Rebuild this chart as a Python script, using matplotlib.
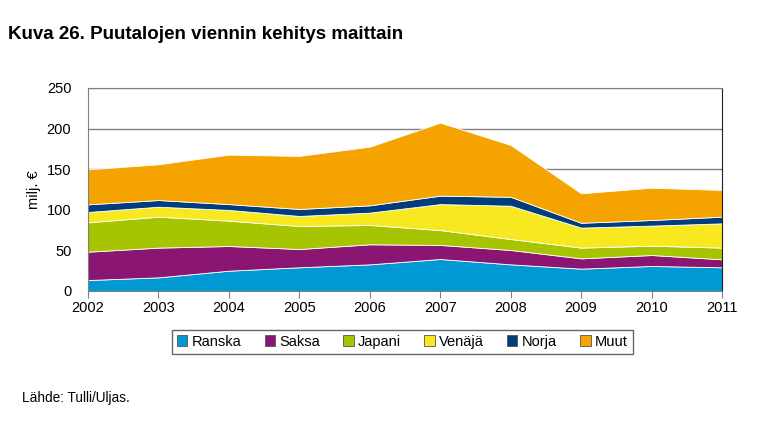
import matplotlib
matplotlib.use('Agg')
import matplotlib.pyplot as plt
from matplotlib.patches import Patch

plt.rcParams['font.family'] = ['Liberation Sans', 'DejaVu Sans']

# vuodet ja sarjat (milj. €)
years = [2002, 2003, 2004, 2005, 2006, 2007, 2008, 2009, 2010, 2011]
ranska = [13.5, 16.8, 25.0, 29.2, 32.8, 39.4, 32.8, 27.5, 30.8, 29.2]
saksa = [34.9, 36.6, 30.4, 22.5, 24.7, 17.3, 17.7, 12.7, 13.5, 9.8]
japani = [36.2, 38.1, 31.2, 28.3, 23.8, 18.3, 13.5, 13.2, 11.5, 14.4]
venaja = [12.7, 12.3, 13.2, 12.4, 15.2, 32.0, 41.0, 24.6, 24.7, 29.9]
norja = [9.4, 8.2, 7.2, 8.6, 9.0, 10.4, 11.0, 6.0, 6.9, 8.2]
muut = [43.1, 44.0, 60.9, 65.3, 72.2, 89.9, 63.8, 36.3, 39.8, 32.9]

labels = ['Ranska', 'Saksa', 'Japani', 'Venäjä', 'Norja', 'Muut']
colors = ['#0099d4', '#8b1572', '#a6c400', '#f8e81f', '#003d7a', '#f5a300']

fig = plt.figure(figsize=(7.68, 4.25), dpi=100)
ax = fig.add_axes([0.1146, 0.3153, 0.8255, 0.4777])

ax.stackplot(years, ranska, saksa, japani, venaja, norja, muut,
             colors=colors, edgecolor='white', linewidth=0.6, zorder=2)

ax.set_xlim(2002, 2011)
ax.set_ylim(0, 250)
ax.set_yticks(range(0, 251, 50))
ax.set_xticks(years)
ax.yaxis.grid(True, color='#808080', linewidth=1, zorder=0)
ax.set_axisbelow(True)
ax.tick_params(axis='y', length=0, labelsize=10.5, pad=12)
ax.tick_params(axis='x', length=5, color='#808080', labelsize=10.5, pad=2)
for s in ['left', 'bottom', 'top']:
    ax.spines[s].set_color('#808080')
ax.spines['right'].set_color('#202020')
ax.set_ylabel('milj. €', fontsize=10.5, labelpad=4)

handles = [Patch(facecolor=c, edgecolor='#555555', linewidth=0.6) for c in colors]
leg = fig.legend(handles, labels, loc='center', bbox_to_anchor=(0.524, 0.196), ncol=6,
                 frameon=True, fancybox=False, edgecolor='#404040', fontsize=10.5,
                 handlelength=0.7, handleheight=0.7, handletextpad=0.3,
                 columnspacing=1.6, borderpad=0.35)
leg.get_frame().set_linewidth(1.0)

fig.text(0.0104, 0.918, 'Kuva 26. Puutalojen viennin kehitys maittain',
         fontsize=13.5, fontweight='bold', va='center')
fig.text(0.0286, 0.063, 'Lähde: Tulli/Uljas.', fontsize=9.8, va='center')

fig.savefig('out.png', dpi=100)
